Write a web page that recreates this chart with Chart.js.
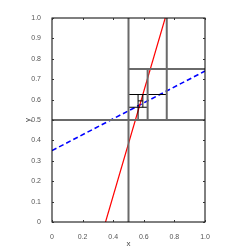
<!DOCTYPE html>
<html>
<head>
<meta charset="utf-8">
<script src="https://cdn.jsdelivr.net/npm/chart.js@4.4.0/dist/chart.umd.min.js"></script>
<style>
  html, body { margin: 0; padding: 0; background: #fff; }
  #wrap { width: 249px; height: 249px; }
</style>
</head>
<body>
<div id="wrap"><canvas id="grafico" width="249" height="249"></canvas></div>
<script>
// dados
const xTicks = [0, 0.2, 0.4, 0.6, 0.8, 1];
const yTicks = [0, 0.1, 0.2, 0.3, 0.4, 0.5, 0.6, 0.7, 0.8, 0.9, 1];
const retaVermelha = [[0.35, 0], [0.74, 1]];
const retaAzul = [[0, 0.35], [1, 0.74]];
// caixas grandes (cinza) e pequenas (preto): [x1, y1, x2, y2]
const segCinza = [
  [0.5, 0, 0.5, 1],
  [0, 0.5, 1, 0.5],
  [0.75, 0.5, 0.75, 1],
  [0.5, 0.75, 1, 0.75],
  [0.625, 0.5, 0.625, 0.75]
];
const segPreto = [
  [0.5, 0.625, 0.75, 0.625],
  [0.5625, 0.5, 0.5625, 0.625],
  [0.5, 0.5625, 0.625, 0.5625],
  [0.59375, 0.5625, 0.59375, 0.625],
  [0.5625, 0.59375, 0.59375, 0.59375]
];

function segmentos(lista) {
  const pts = [];
  lista.forEach(s => {
    pts.push({ x: s[0], y: s[1] });
    pts.push({ x: s[2], y: s[3] });
    pts.push({ x: NaN, y: NaN });
  });
  return pts;
}

const molduraPlugin = {
  id: 'moldura',
  afterDatasetsDraw(chart) {
    const { ctx, chartArea: a, scales } = chart;
    ctx.save();
    ctx.strokeStyle = '#000';
    ctx.lineWidth = 1;
    ctx.strokeRect(a.left, a.top, a.right - a.left, a.bottom - a.top);
    ctx.strokeStyle = '#333';
    ctx.beginPath();
    xTicks.forEach(v => {
      const px = Math.round(scales.x.getPixelForValue(v)) + 0.5;
      ctx.moveTo(px, a.bottom); ctx.lineTo(px, a.bottom - 2);
      ctx.moveTo(px, a.top); ctx.lineTo(px, a.top + 2);
    });
    yTicks.forEach(v => {
      const py = Math.round(scales.y.getPixelForValue(v)) + 0.5;
      ctx.moveTo(a.left, py); ctx.lineTo(a.left + 2, py);
      ctx.moveTo(a.right, py); ctx.lineTo(a.right - 2, py);
    });
    ctx.stroke();
    // titulo do eixo y, junto aos rotulos
    ctx.fillStyle = '#444';
    ctx.font = '8px "Liberation Sans"';
    ctx.textAlign = 'center';
    ctx.textBaseline = 'middle';
    ctx.translate(28, (a.top + a.bottom) / 2);
    ctx.rotate(-Math.PI / 2);
    ctx.fillText('y', 0, 0);
    ctx.restore();
  }
};

const fonte = { family: '"Liberation Sans"', size: 7 };

new Chart(document.getElementById('grafico').getContext('2d'), {
  type: 'line',
  data: {
    datasets: [
      { data: segmentos(segCinza), borderColor: '#6a6a6a', borderWidth: 2, pointRadius: 0, spanGaps: false },
      { data: segmentos(segPreto), borderColor: '#000', borderWidth: 1, pointRadius: 0, spanGaps: false },
      { data: retaVermelha.map(p => ({ x: p[0], y: p[1] })), borderColor: '#ff0000', borderWidth: 1.2, pointRadius: 0 },
      { data: retaAzul.map(p => ({ x: p[0], y: p[1] })), borderColor: '#0000ff', borderWidth: 1.6, borderDash: [5, 3], pointRadius: 0 }
    ]
  },
  options: {
    responsive: false,
    animation: false,
    layout: { padding: { top: 18, right: 44, left: 0, bottom: 0 } },
    plugins: { legend: { display: false }, tooltip: { enabled: false } },
    scales: {
      x: {
        type: 'linear', min: 0, max: 1,
        afterBuildTicks: s => { s.ticks = xTicks.map(v => ({ value: v })); },
        afterFit: s => { s.height = 27; },
        grid: { display: false },
        border: { display: false },
        ticks: { color: '#555', font: fonte, padding: 3, maxRotation: 0 },
        title: { display: true, text: 'x', color: '#444', font: { family: '"Liberation Sans"', size: 8 }, padding: { top: 2, bottom: 0 } }
      },
      y: {
        type: 'linear', min: 0, max: 1,
        afterBuildTicks: s => { s.ticks = yTicks.map(v => ({ value: v })); },
        afterFit: s => { s.width = 52; },
        grid: { display: false },
        border: { display: false },
        ticks: { color: '#555', font: fonte, padding: 3 }
      }
    }
  },
  plugins: [molduraPlugin]
});
</script>
</body>
</html>
